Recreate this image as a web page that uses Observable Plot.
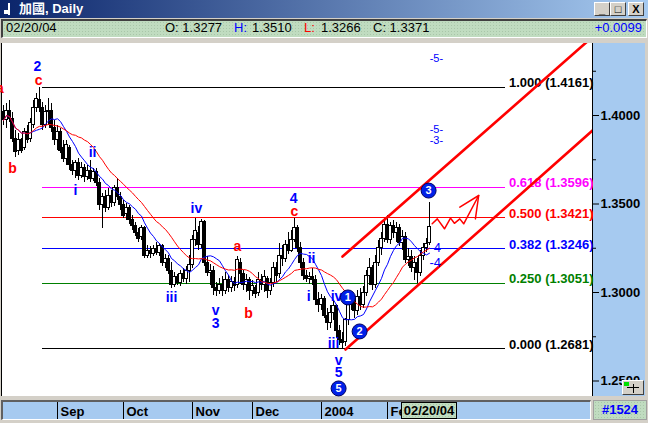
<!DOCTYPE html>
<html>
<head>
<meta charset="utf-8">
<script src="https://cdn.jsdelivr.net/npm/d3@7"></script>
<script src="https://cdn.jsdelivr.net/npm/@observablehq/plot@0.6"></script>
<style>
  html, body { margin: 0; padding: 0; width: 648px; height: 423px; overflow: hidden; background: #d4d0c8;
    font-family: "Liberation Sans", Arial, sans-serif; }
  .abs { position: absolute; }
  #title { left: 0; top: 0; width: 648px; height: 18px; background: linear-gradient(to right, #0a246a, #a6caf0); }
  #title .t { left: 19px; top: 0; color: #fff; font: bold 13px "Liberation Sans", "Noto Sans CJK TC", sans-serif; line-height: 17px; white-space: nowrap; }
  .btn { top: 2px; width: 16px; height: 14px; box-sizing: border-box; background: #d4d0c8;
    border: 1px solid; border-color: #fff #404040 #404040 #fff; color: #000;
    font: bold 11px "Liberation Sans", sans-serif; line-height: 12px; text-align: center; }
  .green { background-color: #c0dcc0;
    background-image: radial-gradient(#a9c6a9 0.6px, transparent 0.7px); background-size: 3px 3px; }
  #info { left: 1px; top: 19px; width: 646px; height: 19px; box-sizing: border-box;
    border-top: 2px solid #404040; border-left: 2px solid #404040; border-bottom: 1px solid #fff; border-right: 1px solid #fff; }
  .it { position: absolute; top: 20px; font: 13px "Liberation Sans", Arial, sans-serif; line-height: 15px; color: #000; white-space: nowrap; }
  #plotbg { left: 1px; top: 43px; width: 591px; height: 353px; background: #fff; border-left: 1px solid #000; }
  #axisbg { left: 592px; top: 43px; width: 52px; height: 353px; background: #a6caf0; border-left: 1px solid #000; }
  #band { left: 1px; top: 400px; width: 590px; height: 20px; box-sizing: border-box; background: #a6caf0;
    border-top: 2px solid #606060; border-left: 2px solid #606060; border-bottom: 1px solid #fff; border-right: 1px solid #fff; }
  #count { left: 593px; top: 400px; width: 54px; height: 20px; box-sizing: border-box; border: 1px solid #a0a0a0;
    font: bold 13px "Liberation Sans", Arial, sans-serif; color: #0000ff; line-height: 18px; text-align: center; }
  #datebox { left: 401px; top: 402px; width: 56px; height: 17px; box-sizing: border-box; border: 1px solid #000;
    font: bold 13px "Liberation Sans", Arial, sans-serif; line-height: 15px; text-align: center; color: #000; z-index: 3; }
  #chart { left: 0; top: 43px; z-index: 2; }
  #scaleicon { left: 622px; top: 380px; width: 22px; height: 15px; box-sizing: border-box; background: #d4d0c8;
    border: 1px solid; border-color: #fff #404040 #404040 #fff; z-index: 3; }
  #scaleicon .g { position: absolute; left: 1px; top: 1px; width: 5px; height: 4px; background: #00e000; }
  #scaleicon .b { position: absolute; left: 4px; top: 6px; width: 12px; height: 1px; background: #000; }
  #scaleicon .s { position: absolute; left: 10px; top: 3px; width: 1px; height: 9px; background: #000; }
</style>
</head>
<body>
<div id="title" class="abs">
  <div class="abs" style="left:8px;top:3px;width:2px;height:12px;background:#fff"></div>
  <div class="abs" style="left:4px;top:10px;width:5px;height:4px;background:#fff"></div>
  <div class="abs t">加國, Daily</div>
  <div class="abs btn" style="left:594px">_</div>
  <div class="abs btn" style="left:610px">□</div>
  <div class="abs btn" style="left:628px">X</div>
</div>
<div id="info" class="abs green"></div>
<div id="infotext"></div>
<div id="plotbg" class="abs"></div>
<div id="axisbg" class="abs"></div>
<div id="band" class="abs"></div>
<div id="count" class="abs green">#1524</div>
<div id="datebox" class="abs green">02/20/04</div>
<div id="scaleicon" class="abs"><div class="g"></div><div class="b"></div><div class="s"></div></div>
<div id="chart" class="abs"></div>
<script>
// Daily USD/CAD candles, 6 Aug 2003 .. 20 Feb 2004 (one entry per weekday)
const open = [1.4017,1.3972,1.4028,1.3983,1.3870,1.3802,1.3859,1.3814,1.3904,1.3870,
  1.3949,1.4040,1.4085,1.4040,1.3944,1.4017,1.4028,1.3927,1.3859,1.3904,
  1.3814,1.3757,1.3819,1.3718,1.3689,1.3729,1.3661,1.3701,1.3655,1.3689,
  1.3644,1.3678,1.3621,1.3492,1.3537,1.3480,1.3548,1.3503,1.3588,1.3542,
  1.3492,1.3446,1.3475,1.3407,1.3373,1.3339,1.3316,1.3362,1.3209,1.3237,
  1.3215,1.3243,1.3226,1.3260,1.3169,1.3192,1.3124,1.3045,1.3085,1.3056,
  1.3102,1.3079,1.3124,1.3158,1.3294,1.3339,1.3266,1.3396,1.3169,1.3113,
  1.3124,1.3023,1.3011,1.3045,1.3011,1.3068,1.3023,1.3062,1.3040,1.3169,
  1.3102,1.3045,1.3068,1.3011,1.3023,1.3000,1.3068,1.3040,1.3079,1.3011,
  1.3056,1.3136,1.3102,1.3209,1.3192,1.3266,1.3237,1.3294,1.3362,1.3249,
  1.3169,1.3096,1.3074,1.3090,1.3068,1.2955,1.2927,1.2966,1.2870,1.2825,
  1.2887,1.2921,1.2785,1.2729,1.2718,1.2842,1.2932,1.2955,1.2898,1.2977,
  1.2927,1.3000,1.3096,1.3136,1.3040,1.3169,1.3249,1.3305,1.3379,1.3294,
  1.3373,1.3339,1.3362,1.3277,1.3316,1.3181,1.3203,1.3136,1.3169,1.3113,
  1.3209,1.3249,1.3277];
const high = [1.4056,1.4068,1.4085,1.4017,1.3915,1.3898,1.3870,1.3927,1.3944,1.3983,
  1.4085,1.4124,1.4161,1.4073,1.4056,1.4096,1.4068,1.3972,1.3944,1.3927,
  1.3859,1.3859,1.3831,1.3746,1.3746,1.3757,1.3734,1.3723,1.3718,1.3746,
  1.3701,1.3701,1.3644,1.3559,1.3576,1.3588,1.3576,1.3605,1.3644,1.3565,
  1.3520,1.3503,1.3492,1.3435,1.3396,1.3362,1.3379,1.3373,1.3266,1.3260,
  1.3266,1.3282,1.3277,1.3271,1.3215,1.3209,1.3169,1.3113,1.3102,1.3124,
  1.3136,1.3147,1.3209,1.3322,1.3418,1.3373,1.3412,1.3407,1.3203,1.3158,
  1.3147,1.3056,1.3079,1.3090,1.3113,1.3096,1.3090,1.3085,1.3203,1.3192,
  1.3124,1.3102,1.3085,1.3068,1.3040,1.3113,1.3102,1.3124,1.3090,1.3079,
  1.3169,1.3169,1.3277,1.3266,1.3294,1.3339,1.3350,1.3418,1.3379,1.3282,
  1.3192,1.3124,1.3113,1.3136,1.3096,1.3000,1.2989,1.2977,1.2910,1.2927,
  1.2955,1.2932,1.2814,1.2774,1.2853,1.2955,1.3000,1.2977,1.3011,1.3023,
  1.3034,1.3124,1.3192,1.3153,1.3209,1.3294,1.3339,1.3418,1.3435,1.3396,
  1.3407,1.3396,1.3384,1.3350,1.3339,1.3249,1.3237,1.3203,1.3192,1.3237,
  1.3277,1.3305,1.3510];
const low = [1.3944,1.3927,1.3960,1.3847,1.3763,1.3774,1.3785,1.3802,1.3842,1.3847,
  1.3927,1.4017,1.4017,1.3915,1.3927,1.3944,1.3904,1.3831,1.3802,1.3785,
  1.3734,1.3718,1.3689,1.3661,1.3644,1.3633,1.3644,1.3621,1.3633,1.3621,
  1.3627,1.3599,1.3463,1.3362,1.3452,1.3463,1.3480,1.3486,1.3520,1.3463,
  1.3418,1.3407,1.3384,1.3350,1.3316,1.3282,1.3294,1.3192,1.3192,1.3192,
  1.3203,1.3209,1.3203,1.3147,1.3136,1.3102,1.3023,1.3028,1.3040,1.3034,
  1.3056,1.3045,1.3056,1.3136,1.3260,1.3237,1.3249,1.3147,1.3090,1.3040,
  1.2983,1.2977,1.2989,1.2977,1.2989,1.3000,1.3000,1.3006,1.3023,1.3045,
  1.3011,1.3000,1.2955,1.2977,1.2966,1.2977,1.3011,1.3000,1.2966,1.2983,
  1.3028,1.3056,1.3079,1.3147,1.3169,1.3215,1.3226,1.3282,1.3226,1.3136,
  1.3068,1.3056,1.3045,1.3040,1.2927,1.2887,1.2898,1.2853,1.2785,1.2797,
  1.2842,1.2740,1.2701,1.2681,1.2695,1.2814,1.2898,1.2853,1.2870,1.2898,
  1.2910,1.2977,1.3040,1.3011,1.3023,1.3147,1.3209,1.3282,1.3277,1.3271,
  1.3305,1.3282,1.3260,1.3237,1.3164,1.3147,1.3113,1.3068,1.3051,1.3090,
  1.3181,1.3226,1.3266];
const close = [1.3972,1.4028,1.3983,1.3870,1.3791,1.3859,1.3802,1.3904,1.3859,1.3960,
  1.4040,1.4096,1.4040,1.3944,1.4017,1.4028,1.3927,1.3859,1.3904,1.3802,
  1.3757,1.3831,1.3718,1.3689,1.3729,1.3661,1.3701,1.3655,1.3689,1.3644,
  1.3678,1.3621,1.3492,1.3537,1.3480,1.3548,1.3503,1.3588,1.3542,1.3492,
  1.3435,1.3475,1.3407,1.3373,1.3339,1.3305,1.3362,1.3209,1.3237,1.3215,
  1.3243,1.3226,1.3260,1.3169,1.3192,1.3124,1.3045,1.3085,1.3056,1.3102,
  1.3079,1.3124,1.3158,1.3294,1.3350,1.3266,1.3396,1.3169,1.3113,1.3124,
  1.3023,1.3011,1.3045,1.3011,1.3068,1.3023,1.3062,1.3034,1.3181,1.3102,
  1.3045,1.3068,1.3011,1.3034,1.2994,1.3068,1.3040,1.3090,1.3011,1.3056,
  1.3136,1.3096,1.3209,1.3192,1.3266,1.3237,1.3294,1.3362,1.3249,1.3169,
  1.3096,1.3074,1.3090,1.3068,1.2955,1.2927,1.2966,1.2870,1.2825,1.2887,
  1.2921,1.2785,1.2729,1.2712,1.2842,1.2932,1.2955,1.2898,1.2977,1.2927,
  1.3000,1.3096,1.3136,1.3040,1.3169,1.3249,1.3305,1.3379,1.3294,1.3373,
  1.3339,1.3362,1.3277,1.3316,1.3181,1.3203,1.3136,1.3169,1.3113,1.3209,
  1.3249,1.3272,1.3371];

// Month boundaries (bar index of the first weekday) and their labels
const monthBars = [18, 40, 63, 83, 106, 128];
const monthLabels = ["Sep", "Oct", "Nov", "Dec", "2004", "Feb"];

// Price axis ticks
const priceTicks = [1.25, 1.30, 1.35, 1.40];
const priceMinorTicks = [1.275, 1.325, 1.375, 1.425];

// Fibonacci retracement of the 1.4161 -> 1.2681 decline
const fibRatios = ["1.000", "0.618", "0.500", "0.382", "0.250", "0.000"];
const fibLevels = [1.4161, 1.3596, 1.3421, 1.3246, 1.3051, 1.2681];

// Elliott wave counts: label, bar, price, degree ("count" blue, "abc" red)
const waveText   = ["a", "2", "c", "b", "ii", "i", "iv", "iii", "v", "3", "a", "b", "4", "c", "ii", "i", "iv", "iii", "v", "5"];
const waveBar    = [-1.2, 11.3, 11.7, 3, 29.7, 24, 64.3, 56, 70.7, 70.7, 78, 81.7, 96.7, 97, 102.7, 101.7, 111, 110, 111.7, 111.7];
const wavePrice  = [1.4153, 1.4277, 1.4198, 1.3701, 1.3791, 1.3576, 1.3475, 1.2972, 1.2898, 1.2825, 1.3260, 1.2881, 1.3531, 1.3458, 1.3192, 1.2977, 1.2977, 1.2712, 1.2616, 1.2548];
const waveDegree = ["abc", "count", "abc", "abc", "count", "count", "count", "count", "count", "count", "abc", "abc", "count", "abc", "count", "count", "count", "count", "count", "count"];

// Circled primary waves
const circleText  = ["5", "1", "2", "3"];
const circleBar   = [111.7, 114.8, 118.7, 141.7];
const circlePrice = [1.2458, 1.2972, 1.2780, 1.3576];

// Projected wave targets on the right
const targetText  = ["-5-", "-5-", "-3-", "4", "-4"];
const targetBar   = [144.3, 144.3, 144.3, 144.6, 143.9];
const targetPrice = [1.4322, 1.3921, 1.3859, 1.3254, 1.3169];

// Rising channel from the January low
const channelLowerBar = [114, 196.33];
const channelLowerPrice = [1.2678, 1.3915];
const channelUpperBar = [113, 195];
const channelUpperPrice = [1.3203, 1.4424];

// Sketched path of the expected move (zig-zag and arrow head)
const pathBar   = [142.9, 144.6, 147, 149, 150.3, 152.1, 153.4, 158.4];
const pathPrice = [1.3388, 1.3416, 1.3360, 1.3420, 1.3391, 1.3416, 1.3388, 1.3548];
const headBar   = [152.1, 158.4, 157.3];
const headPrice = [1.3482, 1.3548, 1.3416];

// ---- derived tables ----
const bars = close.map((c, i) => ({i, open: open[i], high: high[i], low: low[i], close: c}));
const fibs = fibLevels.map((level, k) => ({ratio: fibRatios[k], level}));
const waves = waveText.map((t, k) => ({t, bar: waveBar[k], price: wavePrice[k], degree: waveDegree[k]}));
const circles = circleText.map((t, k) => ({t, bar: circleBar[k], price: circlePrice[k]}));
const targets = targetText.map((t, k) => ({t, bar: targetBar[k], price: targetPrice[k]}));
const lowerLine = channelLowerBar.map((b, k) => ({bar: b, price: channelLowerPrice[k]}));
const upperLine = channelUpperBar.map((b, k) => ({bar: b, price: channelUpperPrice[k]}));
const path = pathBar.map((b, k) => ({bar: b, price: pathPrice[k]}));
const head = headBar.map((b, k) => ({bar: b, price: headPrice[k]}));

const fibColor = {"1.000": "#000000", "0.618": "#ff00ff", "0.500": "#ff0000", "0.382": "#0000ff", "0.250": "#008000", "0.000": "#000000"};
const waveColor = {count: "#0000ff", abc: "#ff0000"};
const fibFrom = 13, fibTo = 167.3;

// ---- header quote line ----
const last = bars[bars.length - 1], prev = bars[bars.length - 2];
const f4 = d3.format(".4f");
const infoItems = [
  {x: 6, text: "02/20/04", color: "#000"},
  {x: 165, text: "O: " + f4(last.open), color: "#000"},
  {x: 234, text: "H:", color: "#0000ff"},
  {x: 252, text: f4(last.high), color: "#000"},
  {x: 304, text: "L:", color: "#ff0000"},
  {x: 321, text: f4(last.low), color: "#000"},
  {x: 373, text: "C: " + f4(last.close), color: "#000"}
];
const infoEl = document.getElementById("infotext");
for (const it of infoItems) {
  const s = document.createElement("span");
  s.className = "it"; s.style.left = it.x + "px"; s.style.color = it.color; s.textContent = it.text;
  infoEl.appendChild(s);
}
const chg = document.createElement("span");
chg.className = "it"; chg.style.right = "6px"; chg.style.color = "#0000ff";
chg.textContent = d3.format("+.4f")(last.close - prev.close);
infoEl.appendChild(chg);

// ---- chart ----
const chart = Plot.plot({
  width: 648,
  height: 380,
  marginTop: 0,
  marginRight: 56,
  marginBottom: 26,
  marginLeft: 0,
  style: {background: "transparent", fontFamily: '"Liberation Sans", Arial, sans-serif', fontSize: "13px", color: "#000", overflow: "visible"},
  x: {type: "linear", domain: [-1, 196.333], axis: null},
  y: {type: "linear", domain: [1.24068, 1.44068], axis: null},
  color: {type: "identity"},
  marks: [
    // Fibonacci levels
    Plot.ruleY(fibs, {y: "level", x1: fibFrom, x2: fibTo, stroke: d => fibColor[d.ratio], strokeWidth: 1, shapeRendering: "crispEdges"}),
    Plot.text(fibs, {x: fibTo + 1.2, y: "level", text: d => `${d.ratio} (${f4(d.level)})`, fill: d => fibColor[d.ratio],
      textAnchor: "start", lineAnchor: "bottom", dy: 0, fontWeight: "bold", fontSize: 13}),
    // candles
    Plot.ruleX(bars, {x: "i", y1: "low", y2: "high", stroke: "#000", strokeWidth: 1, shapeRendering: "crispEdges"}),
    Plot.rect(bars, {x1: d => d.i - 0.4, x2: d => d.i + 0.4, y1: "open", y2: "close",
      fill: d => d.close >= d.open ? "#ffffff" : "#000000", stroke: "#000", strokeWidth: 1, shapeRendering: "crispEdges"}),
    // moving averages
    Plot.lineY(bars, Plot.windowY({k: 10, anchor: "end"}, {x: "i", y: "close", stroke: "#0000ff", strokeWidth: 1})),
    Plot.lineY(bars, Plot.windowY({k: 20, anchor: "end"}, {x: "i", y: "close", stroke: "#ff0000", strokeWidth: 1})),
    // channel
    Plot.line(lowerLine, {x: "bar", y: "price", stroke: "#ff0000", strokeWidth: 2.6, clip: true}),
    Plot.line(upperLine, {x: "bar", y: "price", stroke: "#ff0000", strokeWidth: 2.6, clip: true}),
    // expected path
    Plot.line(path, {x: "bar", y: "price", stroke: "#ff0000", strokeWidth: 1.5}),
    Plot.line(head, {x: "bar", y: "price", stroke: "#ff0000", strokeWidth: 1.5}),
    // wave labels
    Plot.text(waves, {x: "bar", y: "price", text: "t", fill: d => waveColor[d.degree], fontWeight: "bold", fontSize: 14, clip: true}),
    Plot.text(targets, {x: "bar", y: "price", text: "t", fill: "#0000ff", fontSize: d => d.t.includes("4") ? 13 : 11}),
    Plot.dot(circles, {x: "bar", y: "price", r: 7.5, fill: "#0020e8", stroke: "#000060", strokeWidth: 1}),
    Plot.text(circles, {x: "bar", y: "price", text: "t", fill: "#ffffff", fontWeight: "bold", fontSize: 11}),
    // price axis
    Plot.axisY(priceMinorTicks, {anchor: "right", tickSize: 3, tickFormat: () => ""}),
    Plot.axisY(priceTicks, {anchor: "right", tickSize: 6, tickPadding: 2, tickFormat: f4, fontWeight: "bold", fontSize: 13, fill: "#000"}),
    // time axis
    Plot.axisX(monthBars, {anchor: "bottom", tickSize: 17, dy: 5, tickFormat: () => "", stroke: "#000"}),
    Plot.axisX(monthBars, {anchor: "bottom", tickSize: 0, tickPadding: 0, dy: 9, dx: 3, textAnchor: "start",
      tickFormat: d => monthLabels[monthBars.indexOf(d)], fontWeight: "bold", fontSize: 13, fill: "#000"})
  ]
});
document.getElementById("chart").appendChild(chart);
</script>
</body>
</html>
